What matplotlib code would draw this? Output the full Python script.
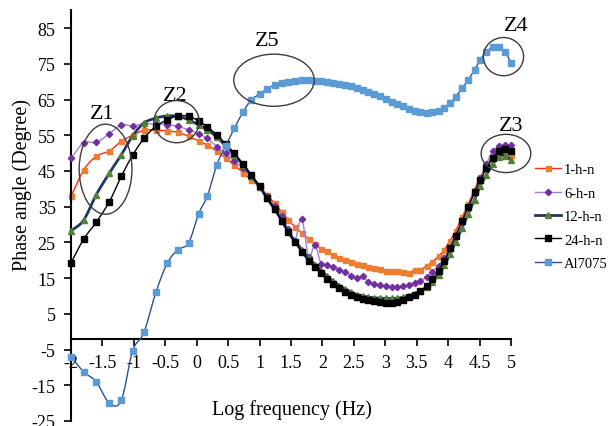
import numpy as np
import matplotlib
matplotlib.use("Agg")
import matplotlib.pyplot as plt
from matplotlib.patches import Ellipse
from matplotlib.lines import Line2D

plt.rcParams['font.family'] = ['Liberation Serif', 'DejaVu Serif']
plt.rcParams['axes.unicode_minus'] = False

# log frequency grid shared by all samples
log_f = [-2.0, -1.8, -1.6, -1.39, -1.2, -1.02, -0.84, -0.65, -0.47, -0.3, -0.13, 0.03,
         0.17, 0.32, 0.46, 0.6, 0.74, 0.87, 1.0, 1.12, 1.24, 1.35, 1.45, 1.56, 1.67, 1.78, 1.88, 1.98,
         2.07, 2.17, 2.27, 2.36, 2.46, 2.55, 2.64, 2.73, 2.82, 2.92, 3.01, 3.11, 3.19, 3.28, 3.37, 3.47,
         3.56, 3.66, 3.75, 3.85, 3.94, 4.03, 4.12, 4.22, 4.32, 4.42, 4.51, 4.61, 4.71, 4.81, 4.91, 5.0]

phase_1h = [37.9, 45.2, 49.1, 50.6, 53.3, 55.0, 56.4, 56.4, 56.2, 55.8, 54.7, 53.4,
            52.2, 50.5, 48.6, 46.6, 44.5, 42.5, 40.5, 38.3, 35.9, 33.6, 31.4, 29.4, 27.6, 26.0, 24.5, 23.2,
            22.5, 21.5, 20.6, 20.0, 19.5, 19.0, 18.6, 18.2, 17.9, 17.5, 17.1, 16.9, 16.9, 16.8, 16.5, 17.3,
            17.4, 18.4, 19.6, 21.2, 23.0, 25.5, 28.3, 32.0, 35.7, 39.8, 43.2, 46.5, 49.0, 50.3, 50.5, 49.5]

phase_6h = [48.5, 52.9, 53.0, 55.4, 57.9, 57.6, 58.2, 58.1, 58.0, 57.5, 56.5, 55.4,
            54.1, 51.8, 49.9, 47.8, 45.7, 43.5, 40.7, 37.9, 35.2, 32.3, 28.8, 25.5, 31.6, 21.0, 24.2, 19.0,
            18.7, 18.0, 17.4, 16.7, 15.7, 15.0, 15.5, 14.0, 13.3, 13.0, 12.7, 12.6, 12.6, 12.7, 13.0, 13.6,
            14.3, 15.3, 16.7, 18.5, 20.5, 23.5, 27.0, 30.8, 35.0, 39.0, 43.0, 47.0, 50.5, 51.9, 52.2, 52.2]

phase_12h = [28.2, 31.2, 38.3, 44.4, 49.5, 54.8, 58.4, 59.8, 60.4, 60.3, 59.3, 57.9,
             56.5, 54.5, 52.0, 49.5, 46.6, 43.6, 40.6, 37.3, 34.3, 31.2, 28.2, 25.5, 23.0, 20.6, 18.8, 17.1,
             15.6, 14.2, 12.9, 11.9, 11.0, 10.4, 10.0, 9.7, 9.5, 9.4, 9.3, 9.3, 9.4, 9.6, 10.0, 10.6,
             11.4, 12.5, 14.0, 16.0, 18.6, 21.7, 25.2, 29.0, 33.0, 37.0, 40.8, 44.0, 47.0, 49.0, 49.3, 48.0]

phase_24h = [19.2, 25.9, 30.6, 36.4, 43.5, 49.4, 54.1, 57.5, 59.3, 60.4, 60.3, 59.0,
             57.3, 55.1, 52.6, 49.9, 46.9, 43.8, 40.7, 37.3, 34.3, 31.0, 27.8, 25.0, 22.3, 19.8, 18.0, 16.4,
             14.7, 13.3, 12.1, 11.0, 10.2, 9.6, 9.1, 8.8, 8.6, 8.3, 8.1, 8.1, 8.3, 8.8, 9.6, 10.3,
             11.4, 12.8, 14.7, 17.0, 19.8, 23.3, 26.8, 31.0, 35.0, 39.0, 42.5, 45.7, 48.5, 50.5, 51.1, 50.5]

phase_al = [-7.0, -11.2, -14.0, -20.0, -19.2, -5.4, -0.2, 11.0, 19.1, 23.0, 24.8, 33.0,
            38.0, 46.7, 52.0, 57.0, 61.6, 64.9, 66.5, 68.0, 69.1, 69.7, 70.0, 70.3, 70.6, 70.4, 70.2, 70.1,
            69.9, 69.7, 69.4, 69.1, 68.7, 68.2, 67.7, 67.1, 66.6, 66.0, 65.2, 64.4, 63.8, 63.1, 62.4, 61.8,
            61.4, 61.2, 61.5, 61.9, 62.7, 63.9, 65.8, 68.1, 70.5, 73.3, 76.0, 78.3, 79.7, 79.6, 78.2, 75.3]

labels = ['1-h-n', '6-h-n', '12-h-n', '24-h-n', 'Al7075']
series = [phase_1h, phase_6h, phase_12h, phase_24h, phase_al]
line_colors = ['#ff2a1a', '#a77bd8', '#1f3864', '#000000', '#2f4f8f']
line_widths = [1.0, 1.0, 2.0, 1.0, 1.0]
marker_styles = ['s', 'D', '^', 's', 's']
marker_colors = ['#ed7d31', '#7030a0', '#548235', '#000000', '#5b9bd5']
marker_sizes = [3.6, 3.2, 4.0, 4.4, 4.2]

x_ticks = [-2, -1.5, -1, -0.5, 0, 0.5, 1, 1.5, 2, 2.5, 3, 3.5, 4, 4.5, 5]
y_ticks = [-25, -15, -5, 5, 15, 25, 35, 45, 55, 65, 75, 85]

# zone marks: name, centre, width, height, label position
zones = [('Z1', (-1.45, 45.5), 0.84, 25.2, (-1.51, 61.2)),
         ('Z2', (-0.32, 58.8), 0.72, 11.8, (-0.34, 66.0)),
         ('Z3', (4.92, 49.9), 0.79, 10.7, (5.0, 57.8)),
         ('Z4', (4.88, 77.0), 0.64, 10.7, (5.08, 85.6)),
         ('Z5', (1.23, 70.4), 1.28, 14.6, (1.12, 81.4))]


def smooth(x, y, n=10):
    # Catmull-Rom curve through the points, like a smoothed spreadsheet line
    x = np.asarray(x, float)
    y = np.asarray(y, float)
    px = np.concatenate([[2 * x[0] - x[1]], x, [2 * x[-1] - x[-2]]])
    py = np.concatenate([[2 * y[0] - y[1]], y, [2 * y[-1] - y[-2]]])
    t = np.linspace(0, 1, n, endpoint=False)[:, None]
    xs, ys = [], []
    for i in range(1, len(px) - 2):
        for arr, out in ((px, xs), (py, ys)):
            p0, p1, p2, p3 = arr[i - 1], arr[i], arr[i + 1], arr[i + 2]
            seg = 0.5 * (2 * p1 + (-p0 + p2) * t + (2 * p0 - 5 * p1 + 4 * p2 - p3) * t ** 2
                         + (-p0 + 3 * p1 - 3 * p2 + p3) * t ** 3)
            out.extend(seg.ravel())
    xs.append(x[-1])
    ys.append(y[-1])
    return np.array(xs), np.array(ys)


fig = plt.figure(figsize=(6.09, 4.27), dpi=100)
ax = fig.add_axes([71 / 609, 1 - 422 / 427, 440 / 609, (422 - 11.2) / 427])

handles = []
for i in range(len(series)):
    sx, sy = smooth(log_f, series[i])
    ax.plot(sx, sy, color=line_colors[i], lw=line_widths[i], zorder=2 + i, clip_on=False)
    ax.plot(log_f, series[i], ls='none', marker=marker_styles[i], ms=marker_sizes[i],
            mfc=marker_colors[i], mec=marker_colors[i], zorder=2 + i, clip_on=False)
    handles.append(Line2D([], [], color=line_colors[i], lw=line_widths[i], marker=marker_styles[i],
                          ms=marker_sizes[i], mfc=marker_colors[i], mec=marker_colors[i]))

for name, c, w, h, lp in zones:
    ax.add_patch(Ellipse(c, w, h, fill=False, ec='#3c3c3c', lw=1.0, clip_on=False, zorder=10))
    ax.text(lp[0], lp[1], name, ha='center', va='center', fontsize=16, clip_on=False)

ax.set_xlim(-2, 5)
ax.set_ylim(-25, 90)
ax.set_xticks(x_ticks)
ax.set_xticklabels([f'{v:g}' for v in x_ticks])
ax.set_yticks(y_ticks)
ax.set_yticklabels([str(v) for v in y_ticks])
ax.spines['top'].set_visible(False)
ax.spines['right'].set_visible(False)
ax.spines['bottom'].set_position(('data', -2))
ax.spines['left'].set_linewidth(1.5)
ax.spines['bottom'].set_linewidth(1.5)
ax.tick_params(direction='out', length=5, width=1.2, labelsize=13, pad=6)
ax.patch.set_visible(False)

fig.text(292 / 609, 1 - 410 / 427, 'Log frequency (Hz)', ha='center', va='center', fontsize=14.5)
fig.text(22 / 609, 1 - 185 / 427, 'Phase angle (Degree)', ha='center', va='center',
         rotation=90, fontsize=14.5)

fig.legend(handles, labels, loc='center left', bbox_to_anchor=(535 / 609, 1 - 217.5 / 427),
           frameon=False, fontsize=10.5, handlelength=1.8, handletextpad=0.2,
           labelspacing=0.7, borderpad=0, borderaxespad=0)

fig.savefig('out.png', dpi=100)
